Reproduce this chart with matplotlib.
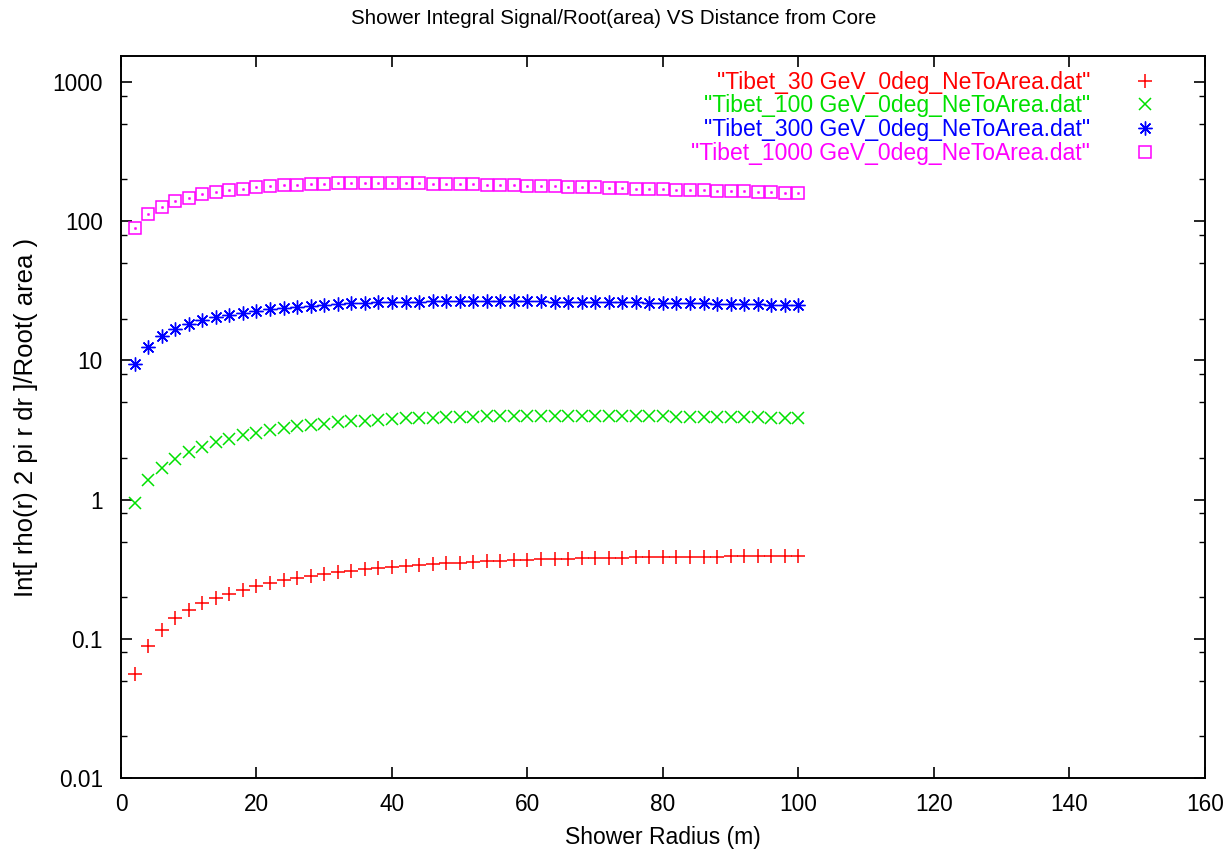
import matplotlib
matplotlib.use("Agg")
from matplotlib import pyplot as plt
from matplotlib.ticker import LogLocator, NullFormatter, FixedLocator, FixedFormatter

plt.rcParams['font.family'] = ['Liberation Sans', 'DejaVu Sans']

radius = list(range(2, 101, 2))

e30 = [0.056, 0.089, 0.116, 0.140, 0.160, 0.180, 0.196, 0.211, 0.226, 0.238,
       0.251, 0.263, 0.274, 0.284, 0.293, 0.302, 0.309, 0.316, 0.322, 0.328,
       0.334, 0.339, 0.344, 0.349, 0.353, 0.357, 0.361, 0.364, 0.367, 0.370,
       0.372, 0.375, 0.377, 0.379, 0.381, 0.382, 0.384, 0.385, 0.386, 0.387,
       0.388, 0.389, 0.390, 0.390, 0.391, 0.391, 0.392, 0.392, 0.392, 0.393]

e100 = [0.95, 1.39, 1.69, 1.96, 2.20, 2.40, 2.58, 2.74, 2.90, 3.03,
        3.15, 3.26, 3.36, 3.45, 3.52, 3.59, 3.65, 3.70, 3.75, 3.79,
        3.83, 3.86, 3.89, 3.91, 3.93, 3.95, 3.96, 3.97, 3.98, 3.98,
        3.99, 3.99, 3.99, 3.99, 3.98, 3.98, 3.97, 3.97, 3.96, 3.96,
        3.95, 3.94, 3.93, 3.93, 3.92, 3.91, 3.90, 3.89, 3.88, 3.87]

e300 = [9.4, 12.5, 15.0, 16.8, 18.2, 19.4, 20.4, 21.3, 22.1, 22.8,
        23.4, 23.9, 24.4, 24.8, 25.1, 25.4, 25.7, 25.9, 26.1, 26.3,
        26.4, 26.5, 26.6, 26.7, 26.7, 26.7, 26.7, 26.7, 26.7, 26.6,
        26.6, 26.5, 26.5, 26.4, 26.3, 26.3, 26.2, 26.1, 26.0, 25.9,
        25.8, 25.8, 25.7, 25.6, 25.5, 25.4, 25.3, 25.2, 25.1, 25.0]

e1000 = [89, 113, 127, 139, 148, 156, 162, 167, 172, 176,
         179, 181, 183, 185, 186, 187, 187, 188, 188, 188,
         187, 187, 186, 186, 185, 184, 183, 182, 181, 180,
         179, 178, 177, 176, 175, 174, 173, 172, 171, 170,
         169, 168, 167, 166, 165, 164, 163, 162, 161, 160]

labels = ['"Tibet_30 GeV_0deg_NeToArea.dat"',
          '"Tibet_100 GeV_0deg_NeToArea.dat"',
          '"Tibet_300 GeV_0deg_NeToArea.dat"',
          '"Tibet_1000 GeV_0deg_NeToArea.dat"']

y_ticks = [0.01, 0.1, 1, 10, 100, 1000]
y_tick_labels = ['0.01', '0.1', '1', '10', '100', '1000']

fig = plt.figure(figsize=(12.27, 8.5), dpi=100)
ax = fig.add_axes([0.0986, 0.0847, 0.8834, 0.8494])

ax.plot(radius, e30, ls='none', marker='+', ms=10, mew=1.1, color='#ff0000', label=labels[0])
ax.plot(radius, e100, ls='none', marker='x', ms=9, mew=1.1, color='#00e000', label=labels[1])
ax.plot(radius, e300, ls='none', marker=(8, 2, 0), ms=10, mew=1.0, color='#0000ff', label=labels[2])
ax.plot(radius, e1000, ls='none', marker='s', ms=8, mew=1.1, mfc='none', color='#ff00ff', label=labels[3])
ax.plot(radius, e1000, ls='none', marker='s', ms=1.2, mew=0.5, color='#ff00ff')  # gnuplot center dot

ax.set_yscale('log')
ax.set_xlim(0, 160)
ax.set_ylim(0.01, 1540)

ax.xaxis.set_major_locator(FixedLocator(range(0, 161, 20)))
ax.yaxis.set_major_locator(FixedLocator(y_ticks))
ax.yaxis.set_major_formatter(FixedFormatter(y_tick_labels))
ax.yaxis.set_minor_locator(LogLocator(base=10, subs=[2, 5, 8]))
ax.yaxis.set_minor_formatter(NullFormatter())

ax.tick_params(which='both', direction='in', top=True, right=True, labelsize=16.3, colors='black')
ax.tick_params(which='major', length=8, width=1.2)
ax.tick_params(which='minor', length=4, width=1.0)
ax.tick_params(axis='x', which='major', pad=11)
ax.tick_params(axis='y', which='major', pad=13)
for sp in ax.spines.values():
    sp.set_linewidth(1.4)

# title sits on the figure centre, like gnuplot does
fig.text(0.5, 1 - 18 / 850, 'Shower Integral Signal/Root(area) VS Distance from Core',
         ha='center', va='center', fontsize=14.8)
ax.set_xlabel('Shower Radius (m)', fontsize=16.5)
ax.xaxis.set_label_coords(0.5, -0.066)
ax.set_ylabel('Int[ rho(r) 2 pi r dr ]/Root( area )', fontsize=18.5)
ax.yaxis.set_label_coords(-0.077, 0.5)

leg = ax.legend(loc='upper right', frameon=False, markerfirst=False, labelcolor='linecolor',
                fontsize=16.5, handlelength=1.0, handletextpad=1.9, labelspacing=0.035,
                borderpad=0.4, borderaxespad=0, alignment='right',
                bbox_to_anchor=(1166 / 1227, 1 - 61.5 / 850), bbox_transform=fig.transFigure)

plt.savefig('out.png', dpi=100)
plt.close(fig)
